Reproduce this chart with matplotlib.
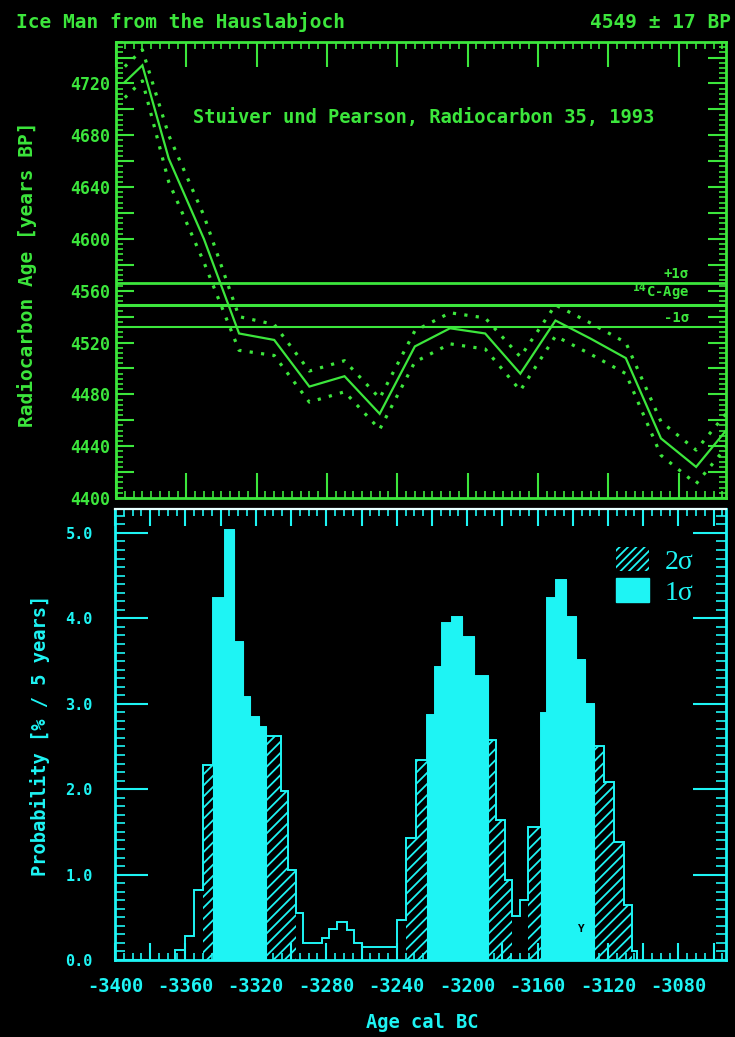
import matplotlib
matplotlib.use("Agg")
import matplotlib.pyplot as plt
import numpy as np
from matplotlib.ticker import MultipleLocator, FuncFormatter
from matplotlib.patches import Patch

# Calibration curve (Stuiver & Pearson 1993): calendar year (BC, negative) vs 14C age BP
curve_year = [-3395, -3385, -3370, -3350, -3330, -3310, -3290, -3270, -3250, -3230,
              -3210, -3190, -3170, -3150, -3130, -3110, -3090, -3070, -3050]
curve_bp = [4721, 4734, 4662, 4600, 4527, 4522, 4486, 4494, 4465, 4517,
            4531, 4527, 4496, 4537, 4523, 4508, 4446, 4424, 4457]
curve_err = [12, 12, 18, 18, 13, 12, 12, 12, 12, 12,
             12, 12, 13, 12, 12, 12, 13, 13, 13]

# Measured radiocarbon age of the sample
age_bp = 4549
age_err = 17

# Calibrated probability distribution: step edges (cal BC) and heights (% / 5 years)
prob_edges = [-3366, -3360, -3355, -3350, -3344.5, -3337.5, -3332.5, -3327.5, -3323.5,
              -3318, -3314.5, -3306, -3302, -3297, -3293, -3282.5, -3278.5, -3274,
              -3268.5, -3264.5, -3259.5, -3240, -3235, -3229, -3223, -3218.5, -3214.5,
              -3208.5, -3203, -3196, -3188, -3183.5, -3178.5, -3174.5, -3170, -3165.5,
              -3158, -3154.5, -3149.5, -3144, -3138, -3133, -3128, -3122.5, -3116.5,
              -3111, -3106.5, -3103.5]
prob_values = [0.12, 0.28, 0.82, 2.28, 4.24, 5.03, 3.72, 3.08, 2.85,
               2.73, 2.62, 1.98, 1.05, 0.55, 0.20, 0.26, 0.36,
               0.45, 0.35, 0.20, 0.15, 0.47, 1.43, 2.34, 2.87, 3.43,
               3.95, 4.02, 3.78, 3.33, 2.58, 1.64, 0.94, 0.52, 0.70,
               1.56, 2.89, 4.24, 4.45, 4.02, 3.51, 3.00, 2.50, 2.08,
               1.38, 0.64, 0.10]

# Confidence ranges (cal BC)
range_1sigma = [(-3344.5, -3314.5), (-3223, -3188), (-3158, -3128)]
range_2sigma = [(-3350, -3297), (-3235, -3174.5), (-3165.5, -3106.5)]

GREEN = "#3ce63c"
CYAN = "#1ef4f4"
BLACK = "black"

plt.rcParams["font.family"] = ["DejaVu Sans Mono"]
plt.rcParams["font.weight"] = "bold"
plt.rcParams["axes.unicode_minus"] = False
plt.rcParams["hatch.linewidth"] = 1.3
plt.rcParams["hatch.color"] = CYAN

fig = plt.figure(figsize=(7.35, 10.37), dpi=100, facecolor=BLACK)

W, H = 735.0, 1037.0


def px_axes(left, top, right, bottom):
    return [left / W, 1 - bottom / H, (right - left) / W, (bottom - top) / H]


ax1 = fig.add_axes(px_axes(116, 42, 726, 498), facecolor=BLACK)
ax2 = fig.add_axes(px_axes(115, 509, 726, 960), facecolor=BLACK)

xmin, xmax = -3400, -3053

# ---------- upper panel: calibration curve ----------
ax1.set_xlim(xmin, xmax)
ax1.set_ylim(4400, 4752)
ax1.plot(curve_year, curve_bp, color=GREEN, lw=1.6, solid_joinstyle="miter")
dots = dict(color=GREEN, lw=2.3, ls=(0, (1.0, 2.6)), dash_capstyle="butt")
ax1.plot(curve_year, np.add(curve_bp, curve_err), **dots)
ax1.plot(curve_year, np.subtract(curve_bp, curve_err), **dots)

ax1.axhline(age_bp + age_err, color=GREEN, lw=2.0)
ax1.axhline(age_bp, color=GREEN, lw=2.2)
ax1.axhline(age_bp - age_err, color=GREEN, lw=1.5)
lab_x = -3074
ax1.text(lab_x, age_bp + age_err + 1.5, "+1σ", color=GREEN, fontsize=10,
         ha="right", va="bottom")
ax1.text(lab_x, age_bp + 1.5, r"$^{14}$C-Age", color=GREEN, fontsize=10,
         ha="right", va="bottom")
ax1.text(lab_x, age_bp - age_err + 1.5, "-1σ", color=GREEN, fontsize=10,
         ha="right", va="bottom")

ax1.text(0.126, 0.835, "Stuiver und Pearson, Radiocarbon 35, 1993",
         transform=ax1.transAxes, color=GREEN, fontsize=13.5, ha="left", va="center")

for s in ax1.spines.values():
    s.set_color(GREEN)
    s.set_linewidth(2.0)
ax1.xaxis.set_major_locator(MultipleLocator(40))
ax1.xaxis.set_minor_locator(MultipleLocator(5))
ax1.yaxis.set_major_locator(MultipleLocator(20))
ax1.yaxis.set_minor_locator(MultipleLocator(4))
ax1.yaxis.set_major_formatter(FuncFormatter(lambda v, p: f"{v:.0f}" if v % 40 == 0 else ""))
ax1.tick_params(axis="x", which="major", direction="in", length=18, width=1.5,
                colors=GREEN, top=True, bottom=True, labelbottom=False)
ax1.tick_params(axis="x", which="minor", direction="in", length=5, width=1.2,
                colors=GREEN, top=True, bottom=True)
ax1.tick_params(axis="y", which="major", direction="in", length=13, width=1.5,
                colors=GREEN, left=True, right=True, labelsize=12, pad=4)
ax1.tick_params(axis="y", which="minor", direction="in", length=5, width=1.2,
                colors=GREEN, left=True, right=True)

# ---------- lower panel: calibrated probability ----------
ax2.set_xlim(xmin, xmax)
ax2.set_ylim(0, 5.28)


def clipped_step(edges, values, lo, hi):
    xs, ys = [], []
    for i, v in enumerate(values):
        a, b = max(edges[i], lo), min(edges[i + 1], hi)
        if b > a:
            xs += [a, b]
            ys += [v, v]
    return xs, ys


for lo, hi in range_2sigma:
    xs, ys = clipped_step(prob_edges, prob_values, lo, hi)
    ax2.fill_between(xs, ys, 0, facecolor=BLACK, edgecolor=CYAN,
                     hatch="///", linewidth=0)
for lo, hi in range_1sigma:
    xs, ys = clipped_step(prob_edges, prob_values, lo, hi)
    ax2.fill_between(xs, ys, 0, facecolor=CYAN, edgecolor=CYAN, linewidth=0.8)

ax2.stairs(prob_values, prob_edges, baseline=0, color=CYAN, lw=1.4)
ax2.text(-3135, 0.36, "Y", color=BLACK, fontsize=8, ha="center", va="center")

leg = ax2.legend([Patch(facecolor=BLACK, edgecolor=CYAN, hatch="////", linewidth=0),
                  Patch(facecolor=CYAN, edgecolor=CYAN)],
                 ["2σ", "1σ"], loc="upper right", bbox_to_anchor=(0.965, 0.94),
                 frameon=False, handlelength=1.2, handleheight=0.95,
                 labelspacing=0.12, handletextpad=0.55, borderaxespad=0.0,
                 prop={"family": "Liberation Serif", "size": 20, "weight": "normal"})
for t in leg.get_texts():
    t.set_color(CYAN)

for name, s in ax2.spines.items():
    s.set_color(CYAN)
    s.set_linewidth(2.0)
ax2.spines["top"].set_color("#e6ffff")
ax2.spines["top"].set_linewidth(1.6)

ax2.xaxis.set_major_locator(MultipleLocator(20))
ax2.xaxis.set_minor_locator(MultipleLocator(5))
ax2.xaxis.set_major_formatter(FuncFormatter(lambda v, p: f"{v:.0f}" if v % 40 == 0 else ""))
ax2.yaxis.set_major_locator(MultipleLocator(1.0))
ax2.yaxis.set_minor_locator(MultipleLocator(0.1))
ax2.yaxis.set_major_formatter(FuncFormatter(lambda v, p: f"{v:.1f}"))
ax2.tick_params(axis="x", which="major", direction="in", length=12, width=1.5,
                colors=CYAN, top=True, bottom=True, labelsize=13.5, pad=12)
ax2.tick_params(axis="x", which="minor", direction="in", length=5, width=1.2,
                colors=CYAN, top=True, bottom=True)
ax2.tick_params(axis="y", which="major", direction="in", length=24, width=1.5,
                colors=CYAN, left=True, right=True, labelsize=11, pad=16)
ax2.tick_params(axis="y", which="minor", direction="in", length=7, width=1.2,
                colors=CYAN, left=True, right=True)

# ---------- titles and axis labels ----------
fig.text(16 / W, 1 - 22 / H, "Ice Man from the Hauslabjoch", color=GREEN,
         fontsize=14, ha="left", va="center")
fig.text(731 / W, 1 - 22 / H, f"{age_bp} ± {age_err} BP", color=GREEN,
         fontsize=14, ha="right", va="center")
fig.text(27 / W, 1 - 274 / H, "Radiocarbon Age [years BP]", color=GREEN,
         fontsize=14, rotation=90, ha="center", va="center")
fig.text(40 / W, 1 - 735 / H, "Probability [% / 5 years]", color=CYAN,
         fontsize=13.5, rotation=90, ha="center", va="center")
fig.text(422 / W, 1 - 1022 / H, "Age cal BC", color=CYAN,
         fontsize=13.5, ha="center", va="center")

fig.savefig("out.png", dpi=100, facecolor=BLACK)
